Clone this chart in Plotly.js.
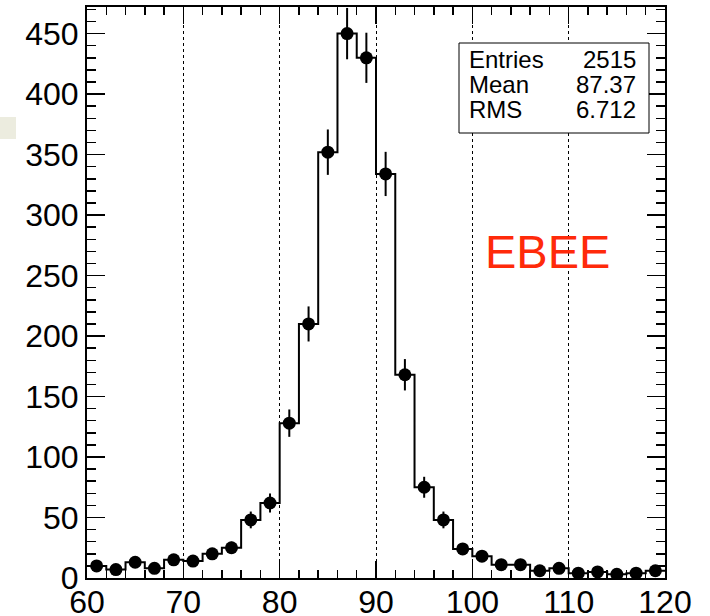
<!DOCTYPE html>
<html>
<head>
<meta charset="utf-8">
<script src="https://cdn.plot.ly/plotly-3.0.1.min.js"></script>
<style>
body { margin: 0; background: #fff; }
#hist { width: 710px; height: 616px; }
</style>
</head>
<body>
<div id="hist"></div>
<script>
// bin centres of the 2 GeV wide bins from 60 to 120
var binCentres = [61, 63, 65, 67, 69, 71, 73, 75, 77, 79,
                  81, 83, 85, 87, 89, 91, 93, 95, 97, 99,
                  101, 103, 105, 107, 109, 111, 113, 115, 117, 119];
var counts = [10, 7, 13, 8, 15, 14, 20, 25, 48, 62,
              128, 210, 352, 450, 430, 334, 168, 75, 48, 24,
              18, 11, 11, 6, 8, 4, 5, 3, 4, 6];
var binWidth = 2;
var statNames = ["Entries", "Mean", "RMS"];
var statValues = ["2515", "87.37", "6.712"];

// plot area in pixels, used to place the stats box and labels
var W = 710, H = 616;
var L = 87, R = 665, T = 7, B = 578;
function px(x) { return (x - L) / (R - L); }
function py(y) { return (B - y) / (B - T); }

// outline of the histogram, bin edge to bin edge
var stepX = [];
var stepY = [];
for (var iii = 0; iii < binCentres.length; iii++)
{
    stepX.push(binCentres[iii] - binWidth / 2);
    stepY.push(counts[iii]);
}
stepX.push(binCentres[binCentres.length - 1] + binWidth / 2);
stepY.push(counts[counts.length - 1]);

var errs = counts.map(function(n) { return Math.sqrt(n); });

var outline =
{
    x: stepX,
    y: stepY,
    type: "scatter",
    mode: "lines",
    line: {shape: "hv", color: "#000", width: 2},
    hoverinfo: "skip"
};
var points =
{
    x: binCentres,
    y: counts,
    type: "scatter",
    mode: "markers",
    marker: {color: "#000", size: 13},
    error_y: {type: "data", array: errs, visible: true, color: "#000", thickness: 2, width: 0}
};

var font = "Liberation Sans, Arial, Helvetica, sans-serif";

var annotations = [];
for (var jjj = 0; jjj < statNames.length; jjj++)
{
    var rowY = py(59 + jjj * 25.5);
    annotations.push({xref: "paper", yref: "paper", x: px(467), y: rowY, xanchor: "left", yanchor: "middle",
        text: statNames[jjj], showarrow: false, font: {family: font, size: 24, color: "#000"}});
    annotations.push({xref: "paper", yref: "paper", x: px(638), y: rowY, xanchor: "right", yanchor: "middle",
        text: statValues[jjj], showarrow: false, font: {family: font, size: 24, color: "#000"}});
}
annotations.push({xref: "paper", yref: "paper", x: px(547), y: py(251), xanchor: "center", yanchor: "middle",
    text: "EBEE", showarrow: false, font: {family: font, size: 47, color: "#ff2a0a"}});

var layout =
{
    width: W,
    height: H,
    margin: {l: L, r: W - R, t: T, b: H - B},
    paper_bgcolor: "#fff",
    plot_bgcolor: "#fff",
    showlegend: false,
    font: {family: font, color: "#000"},
    xaxis: {
        range: [60, 120],
        tickmode: "linear", tick0: 60, dtick: 10,
        ticks: "inside", ticklen: 17, tickwidth: 1.5, tickcolor: "#000",
        minor: {tickmode: "linear", dtick: 2, ticks: "inside", ticklen: 8, tickwidth: 1.5, tickcolor: "#000", showgrid: false},
        showgrid: true, gridcolor: "#000", griddash: "dot", gridwidth: 1,
        showline: true, linecolor: "#000", linewidth: 2, mirror: "allticks",
        zeroline: false,
        ticklabelstandoff: -5,
        tickfont: {family: font, size: 32, color: "#000"}
    },
    yaxis: {
        range: [0, 472],
        tickmode: "linear", tick0: 0, dtick: 50,
        ticks: "inside", ticklen: 18, tickwidth: 1.5, tickcolor: "#000",
        minor: {tickmode: "linear", dtick: 10, ticks: "inside", ticklen: 9, tickwidth: 1.5, tickcolor: "#000", showgrid: false},
        showgrid: false,
        showline: true, linecolor: "#000", linewidth: 2, mirror: "allticks",
        zeroline: false,
        tickfont: {family: font, size: 32, color: "#000"}
    },
    shapes: [
        {type: "rect", xref: "paper", yref: "paper", x0: px(459), x1: px(649), y0: py(43), y1: py(133),
         line: {color: "#000", width: 1}, fillcolor: "#fff", layer: "above"},
        {type: "rect", xref: "paper", yref: "paper", x0: px(0), x1: px(16), y0: py(117), y1: py(139),
         line: {width: 0}, fillcolor: "#ececdf"}
    ],
    annotations: annotations
};

Plotly.newPlot("hist", [outline, points], layout, {displayModeBar: false, staticPlot: true});
</script>
</body>
</html>
